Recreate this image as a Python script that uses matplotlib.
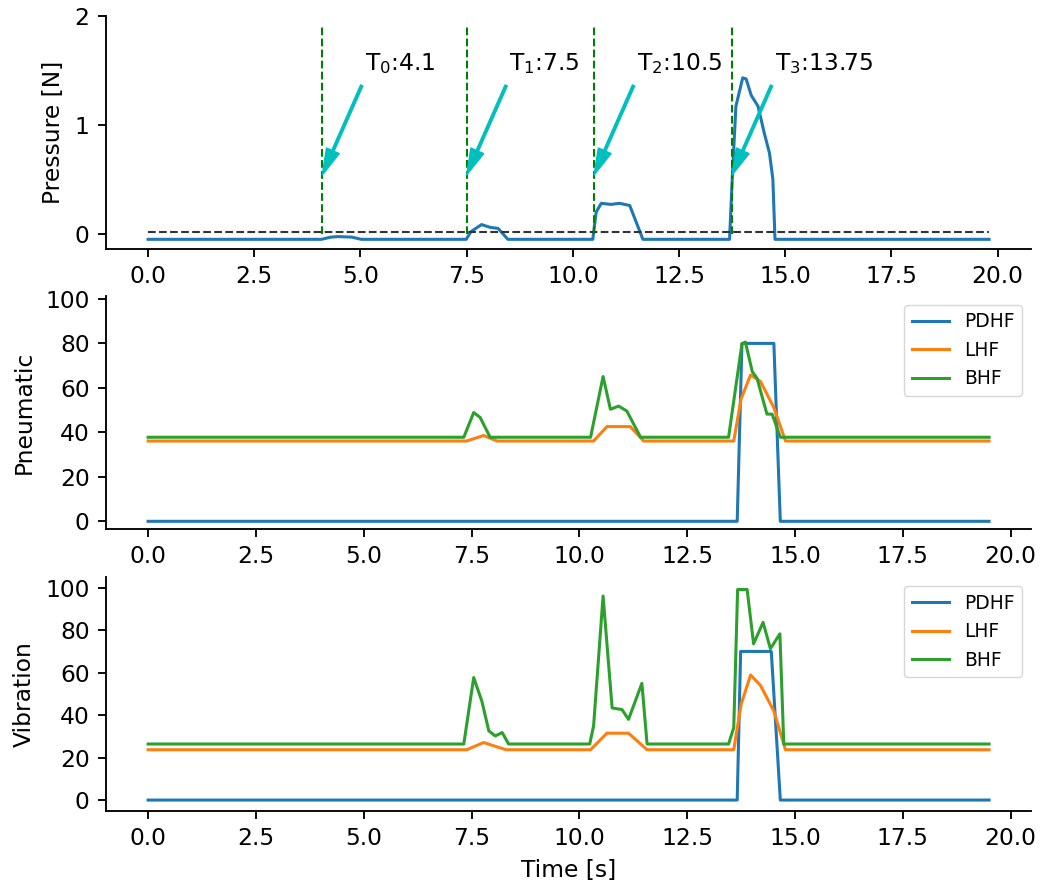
import matplotlib
matplotlib.use("Agg")
from matplotlib import pyplot as plt

# pressure trace (top)
press_t = [0, 4.08, 4.3, 4.47, 4.8, 5.02, 7.49, 7.6, 7.85, 8.05, 8.24, 8.47,
	10.47, 10.55, 10.67, 10.9, 11.1, 11.34, 11.5, 11.65,
	13.69, 13.76, 13.84, 14.0, 14.08, 14.2, 14.36, 14.51, 14.63, 14.71, 14.76, 19.8]
press_v = [-0.05, -0.05, -0.03, -0.025, -0.03, -0.05, -0.05, 0.02, 0.085, 0.06, 0.05, -0.05,
	-0.05, 0.2, 0.28, 0.27, 0.28, 0.26, 0.1, -0.05,
	-0.05, 0.56, 1.17, 1.43, 1.42, 1.27, 1.17, 0.92, 0.74, 0.5, -0.05, -0.05]
threshold = 0.02
events = [4.1, 7.5, 10.5, 13.75]
event_labels = ["T$_0$:4.1", "T$_1$:7.5", "T$_2$:10.5", "T$_3$:13.75"]

# pneumatic feedback (middle)
pn_pdhf_t = [0, 13.66, 13.77, 14.51, 14.66, 19.5]
pn_pdhf = [0, 0, 80, 80, 0, 0]
pn_lhf_t = [0, 7.39, 7.78, 8.09, 10.33, 10.64, 11.18, 11.49, 13.58, 13.75, 13.97, 14.2, 14.51, 14.78, 19.5]
pn_lhf = [36.1, 36.1, 38.6, 36.1, 36.1, 42.6, 42.6, 36.1, 36.1, 55, 65.8, 62.9, 51.1, 36.1, 36.1]
pn_bhf_t = [0, 7.32, 7.55, 7.7, 7.93, 10.26, 10.55, 10.72, 10.91, 11.1, 11.42,
	13.46, 13.77, 13.85, 14.01, 14.12, 14.35, 14.47, 14.66, 19.5]
pn_bhf = [37.8, 37.8, 48.9, 46.7, 37.8, 37.8, 65.1, 50.4, 51.8, 49.6, 37.8,
	37.8, 79.8, 80.6, 67.3, 64.3, 48.2, 48.2, 37.8, 37.8]

# vibration feedback (bottom)
vb_pdhf_t = [0, 13.66, 13.74, 14.45, 14.66, 19.5]
vb_pdhf = [0, 0, 70, 70, 0, 0]
vb_lhf_t = [0, 7.39, 7.78, 8.3, 10.26, 10.64, 11.14, 11.57, 13.58, 13.75, 13.97, 14.2, 14.51, 14.78, 19.5]
vb_lhf = [23.7, 23.7, 27.1, 23.7, 23.7, 31.5, 31.5, 23.7, 23.7, 45, 58.9, 54, 41.9, 23.7, 23.7]
vb_bhf_t = [0, 7.32, 7.55, 7.74, 7.9, 8.05, 8.21, 8.36, 10.24, 10.33, 10.55, 10.76, 10.99, 11.14, 11.45, 11.57,
	13.46, 13.58, 13.67, 13.89, 14.04, 14.26, 14.43, 14.65, 14.74, 19.5]
vb_bhf = [26.4, 26.4, 57.7, 46.5, 32.6, 30.2, 31.8, 26.4, 26.4, 34.9, 96.1, 43.4, 42.6, 38, 55, 26.4,
	26.4, 34.1, 99.2, 99.2, 73.6, 83.7, 71.3, 78.3, 26.4, 26.4]

series_names = ["PDHF", "LHF", "BHF"]

k = 1.68 # the whole figure looks like a default one blown up by this factor
plt.rcParams["font.size"] = 10 * k
plt.rcParams["axes.linewidth"] = 0.8 * k
for a in ("xtick", "ytick"):
	plt.rcParams[a + ".major.size"] = 3.5 * k
	plt.rcParams[a + ".major.width"] = 0.8 * k
	plt.rcParams[a + ".major.pad"] = 3.5 * k
plt.rcParams["axes.labelpad"] = 4 * k

fig = plt.figure(figsize = (10.5, 8.93), dpi = 100)
ax1 = fig.add_axes([0.101, 0.721, 0.881, 0.2615])
ax2 = fig.add_axes([0.101, 0.4075, 0.881, 0.2615])
ax3 = fig.add_axes([0.101, 0.0922, 0.881, 0.2615])

ax1.plot(press_t, press_v, color = "#1f77b4", lw = 2.2)
ax1.plot([press_t[0], press_t[-1]], [threshold, threshold], "--", color = "#333333", lw = 1.5)
for t, lab in zip(events, event_labels):
	ax1.vlines(t, 0, 1.9, colors = "g", linestyles = "dashed", lw = 1.5)
	ax1.annotate("", xy = (t, 0.54), xytext = (t + 0.93, 1.36),
		arrowprops = dict(facecolor = "c", edgecolor = "c", width = 1.8, headwidth = 10, headlength = 19, shrink = 0))
	ax1.text(t + 1.0, 1.56, lab, fontsize = 10 * k, va = "center", ha = "left")
ax1.set_ylim(-0.14, 2.0)
ax1.set_yticks([0, 1, 2])
ax1.set_ylabel("Pressure [N]")

for ax, data, ylab in [(ax2, [(pn_pdhf_t, pn_pdhf), (pn_lhf_t, pn_lhf), (pn_bhf_t, pn_bhf)], "Pneumatic"),
		(ax3, [(vb_pdhf_t, vb_pdhf), (vb_lhf_t, vb_lhf), (vb_bhf_t, vb_bhf)], "Vibration")]:
	for (t, v), name in zip(data, series_names):
		ax.plot(t, v, lw = 2.2, label = name)
	ax.set_ylabel(ylab)
	ax.set_yticks([0, 20, 40, 60, 80, 100])
	ax.legend(loc = "upper right", fontsize = 8 * k)
ax2.set_ylim(-3.5, 101.5)
ax3.set_ylim(-5, 105)
ax3.set_xlabel("Time [s]")

for ax in (ax1, ax2, ax3):
	ax.set_xticks([0, 2.5, 5, 7.5, 10, 12.5, 15, 17.5, 20])
	ax.spines["top"].set_visible(False)
	ax.spines["right"].set_visible(False)

plt.savefig("out.png")
